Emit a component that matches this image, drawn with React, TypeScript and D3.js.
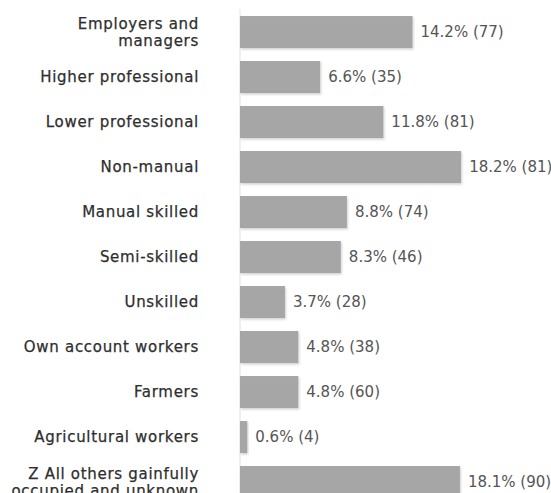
import React from 'react';
import * as d3 from 'd3';

const categories = [
  'Employers and managers',
  'Higher professional',
  'Lower professional',
  'Non-manual',
  'Manual skilled',
  'Semi-skilled',
  'Unskilled',
  'Own account workers',
  'Farmers',
  'Agricultural workers',
  'Z All others gainfully occupied and unknown',
];

// label lines (wrapped as in the original)
const labelLines = [
  ['Employers and', 'managers'],
  ['Higher professional'],
  ['Lower professional'],
  ['Non-manual'],
  ['Manual skilled'],
  ['Semi-skilled'],
  ['Unskilled'],
  ['Own account workers'],
  ['Farmers'],
  ['Agricultural workers'],
  ['Z All others gainfully', 'occupied and unknown'],
];

const percents = [14.2, 6.6, 11.8, 18.2, 8.8, 8.3, 3.7, 4.8, 4.8, 0.6, 18.1];
const counts = [77, 35, 81, 81, 74, 46, 28, 38, 60, 4, 90];

const W = 551;
const H = 493;

export default function App() {
  const x = d3.scaleLinear().domain([0, 20]).range([240, 483]);
  const y = d3.scaleBand<string>()
    .domain(categories)
    .range([9.5, 504.5])
    .paddingInner(0.29)
    .paddingOuter(0.145);

  const font = '"DejaVu Sans", sans-serif';

  return (
    <div style={{ position: 'fixed', left: 0, top: 0, width: W, height: H, background: '#fff' }}>
      <svg width={W} height={H} style={{ display: 'block' }}>
        <defs>
          <filter id="shadow" x="-10%" y="-20%" width="130%" height="160%">
            <feDropShadow dx="1" dy="1.5" stdDeviation="1.2" floodColor="#000" floodOpacity="0.18" />
          </filter>
        </defs>
        <line x1={x(0)} x2={x(0)} y1={9} y2={H} stroke="#e2e2e2" strokeWidth={1} />
        {categories.map((c, i) => {
          const y0 = y(c)!;
          const cy = y0 + y.bandwidth() / 2;
          const lines = labelLines[i];
          return (
            <g key={c}>
              <rect
                x={x(0)}
                y={y0}
                width={x(percents[i]) - x(0)}
                height={y.bandwidth()}
                fill="#a6a6a6"
                filter="url(#shadow)"
              />
              <text
                x={x(percents[i]) + 8}
                y={cy}
                dy="0.35em"
                fontFamily={font}
                fontSize={15}
                fill="#555"
              >
                {`${percents[i].toFixed(1)}% (${counts[i]})`}
              </text>
              {lines.map((l, j) => (
                <text
                  key={j}
                  x={199}
                  y={cy + (j - (lines.length - 1) / 2) * 17}
                  dy="0.35em"
                  textAnchor="end"
                  fontFamily={font}
                  fontSize={15}
                  letterSpacing={0.7}
                  fill="#2e2e2e"
                  stroke="#2e2e2e"
                  strokeWidth={0.25}
                >
                  {l}
                </text>
              ))}
            </g>
          );
        })}
      </svg>
    </div>
  );
}
